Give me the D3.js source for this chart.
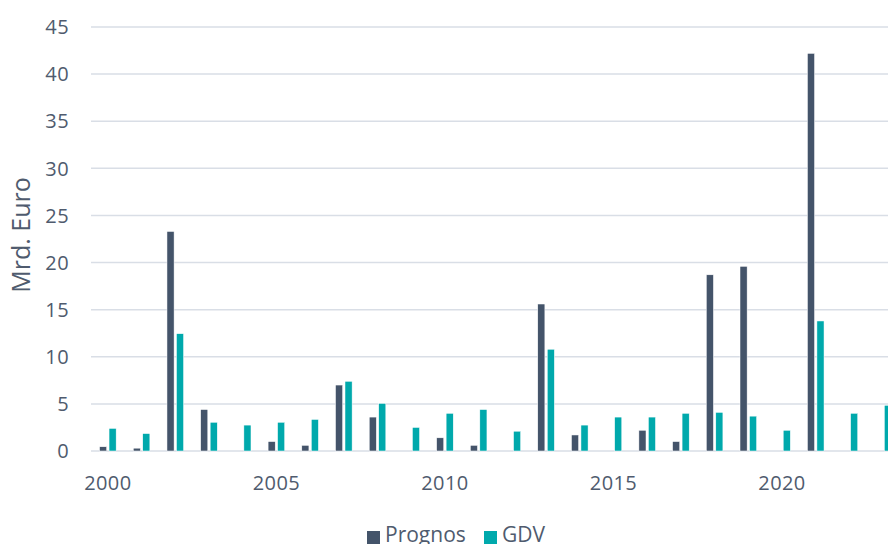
<!DOCTYPE html>
<html lang="de">
<head>
<meta charset="utf-8">
<title>Prognos vs GDV</title>
<script src="https://d3js.org/d3.v7.min.js"></script>
<style>
  html, body { margin: 0; padding: 0; background: #fff; overflow: hidden; }
  svg text { font-family: "Open Sans", "Noto Sans", sans-serif; fill: #4F5B6E; }
  .grid line { stroke: #D9DEE6; stroke-width: 1.5; }
</style>
</head>
<body>
<svg id="chart" width="888" height="544"></svg>
<script>
// values in Mrd. Euro
var years = d3.range(2000, 2024);
var prognos = [0.45, 0.3, 23.3, 4.4, 0, 1.0, 0.6, 7.0, 3.6, 0, 1.4, 0.6, 0, 15.6, 1.7, 0, 2.2, 1.0, 18.7, 19.6, 0, 42.2, 0, 0];
var gdv     = [2.4, 1.85, 12.45, 3.05, 2.75, 3.05, 3.35, 7.4, 5.05, 2.5, 4.0, 4.4, 2.1, 10.8, 2.75, 3.6, 3.6, 4.0, 4.1, 3.7, 2.2, 13.8, 4.0, 4.85];
var yTicks = [0, 5, 10, 15, 20, 25, 30, 35, 40, 45];
var xTickYears = [2000, 2005, 2010, 2015, 2020];
var seriesNames = ["Prognos", "GDV"];
var colors = { Prognos: "#44546A", GDV: "#00A9AC" };

var svg = d3.select("#chart");
var plotLeft = 91, plotRight = 900, plotTop = 27, plotBottom = 451;

var x = d3.scaleBand().domain(years).range([plotLeft, plotRight]).padding(0);
var x1 = d3.scaleBand().domain(seriesNames)
    .range([x.bandwidth() / 2 - 8.3, x.bandwidth() / 2 + 8.3])
    .paddingInner(0.25);
var y = d3.scaleLinear().domain([0, 45]).range([plotBottom, plotTop]);

// gridlines
svg.append("g").attr("class", "grid")
  .selectAll("line").data(yTicks).enter().append("line")
  .attr("x1", plotLeft).attr("x2", 888)
  .attr("y1", function(d) { return y(d); })
  .attr("y2", function(d) { return y(d); });

// y tick labels
svg.append("g").selectAll("text").data(yTicks).enter().append("text")
  .attr("x", 69).attr("y", function(d) { return y(d); })
  .attr("dy", "0.36em").attr("text-anchor", "end")
  .style("font-size", "20px").style("letter-spacing", "0.4px")
  .text(function(d) { return d; });

// x tick labels
svg.append("g").selectAll("text").data(xTickYears).enter().append("text")
  .attr("x", function(d) { return x(d) + x.bandwidth() / 2; })
  .attr("y", 490).attr("text-anchor", "middle")
  .style("font-size", "20px").style("letter-spacing", "0.4px")
  .text(function(d) { return d; });

// y axis title
svg.append("text")
  .attr("transform", "translate(30,235) rotate(-90)")
  .attr("text-anchor", "middle")
  .style("font-size", "25px")
  .text("Mrd. Euro");

// bars
var rows = years.map(function(yr, i) {
  return { year: yr, Prognos: prognos[i], GDV: gdv[i] };
});

var groups = svg.append("g").selectAll("g").data(rows).enter().append("g")
  .attr("transform", function(d) { return "translate(" + x(d.year) + ",0)"; });

groups.selectAll("rect")
  .data(function(d) { return seriesNames.map(function(s) { return { key: s, value: d[s] }; }); })
  .enter().filter(function(d) { return d.value > 0; })
  .append("rect")
  .attr("x", function(d) { return x1(d.key); })
  .attr("width", x1.bandwidth())
  .attr("y", function(d) { return y(d.value); })
  .attr("height", function(d) { return y(0) - y(d.value); })
  .attr("fill", function(d) { return colors[d.key]; })
  .attr("stroke", "#fff").attr("stroke-width", 0.5);

// legend
var legend = svg.append("g");
var legendItems = [{ key: "Prognos", x: 367 }, { key: "GDV", x: 484 }];
legendItems.forEach(function(it) {
  legend.append("rect").attr("x", it.x).attr("y", 531)
    .attr("width", 13).attr("height", 13).attr("fill", colors[it.key]);
  legend.append("text").attr("x", it.x + 18).attr("y", 542)
    .style("font-size", "21px").text(it.key);
});
</script>
</body>
</html>
